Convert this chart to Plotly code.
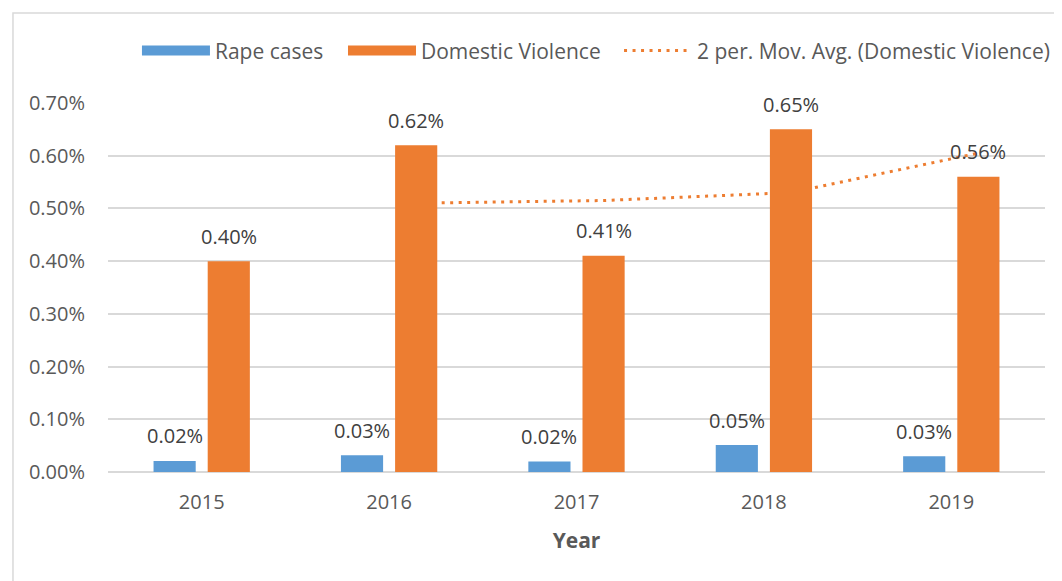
import plotly.graph_objects as go
import pandas as pd

years = ["2015", "2016", "2017", "2018", "2019"]
rape_cases = [0.00021, 0.00032, 0.00020, 0.00051, 0.00030]
domestic_violence = [0.0040, 0.0062, 0.0041, 0.0065, 0.0056]

idx = list(range(len(years)))
bar_w = 0.225
rape_off = -0.257
dv_off = 0.032

# 2-period moving average of Domestic Violence (Excel trendline)
mov_avg = pd.Series(domestic_violence).rolling(2).mean().tolist()

BLUE = "#5B9BD5"
ORANGE = "#ED7D31"
GREY = "#595959"
FONT = "Open Sans"

fig = go.Figure()

# bars on overlay axes so they sit above the trendline
fig.add_trace(go.Bar(
    x=idx, y=rape_cases, name="Rape cases", marker_color=BLUE,
    width=bar_w, offset=rape_off, xaxis="x2", yaxis="y2",
    marker_line_width=0, showlegend=False, legendgroup="rape",
))
fig.add_trace(go.Bar(
    x=idx, y=domestic_violence, name="Domestic Violence", marker_color=ORANGE,
    width=bar_w, offset=dv_off, xaxis="x2", yaxis="y2",
    marker_line_width=0, showlegend=False, legendgroup="dv",
))
# legend swatches (wide, Excel-like)
fig.add_trace(go.Scatter(
    x=[None], y=[None], mode="lines", name="Rape cases", legendgroup="rape",
    line=dict(color=BLUE, width=14), legend="legend",
))
fig.add_trace(go.Scatter(
    x=[None], y=[None], mode="lines", name="Domestic Violence", legendgroup="dv",
    line=dict(color=ORANGE, width=14), legend="legend2",
))
ma_x = [i + dv_off + bar_w / 2 for i, v in zip(idx, mov_avg) if v == v]
ma_y = [v for v in mov_avg if v == v]
fig.add_trace(go.Scatter(
    x=ma_x, y=ma_y, mode="lines", name="2 per. Mov. Avg. (Domestic Violence)",
    line=dict(color=ORANGE, width=3, dash="3px,5.5px"), legend="legend3",
))

annotations = []
for i, v in zip(idx, rape_cases):
    annotations.append(dict(x=i + rape_off + bar_w / 2, y=v, xref="x2", yref="y2",
                            text=f"{v*100:.2f}%", showarrow=False, yanchor="middle",
                            yshift=25, font=dict(family=FONT, size=20, color="#404040")))
for i, v in zip(idx, domestic_violence):
    annotations.append(dict(x=i + dv_off + bar_w / 2, y=v, xref="x2", yref="y2",
                            text=f"{v*100:.2f}%", showarrow=False, yanchor="middle",
                            yshift=25, font=dict(family=FONT, size=20, color="#404040")))

def leg(x, iw):
    return dict(orientation="h", x=x, xanchor="left", y=1.141, yanchor="middle",
                itemwidth=iw, font=dict(family=FONT, size=21, color=GREY),
                bgcolor="rgba(0,0,0,0)", borderwidth=0)

fig.update_layout(
    width=1080, height=573,
    margin=dict(l=100, r=43, t=95, b=109),
    paper_bgcolor="white", plot_bgcolor="white",
    barmode="overlay",
    font=dict(family=FONT, size=20, color=GREY),
    showlegend=True,
    legend=leg(0.0309, 68),
    legend2=leg(0.2508, 68),
    legend3=leg(0.5454, 68),
    xaxis=dict(range=[-0.5, 4.5], tickmode="array", tickvals=idx, ticktext=years,
               showgrid=False, zeroline=False, showline=False, ticks="",
               ticklabelstandoff=16,
               tickfont=dict(family=FONT, size=20, color=GREY),
               title=dict(text="<b>Year</b>", standoff=19,
                          font=dict(family=FONT, size=21, color=GREY))),
    yaxis=dict(range=[0, 0.007], dtick=0.001, tickformat=".2%",
               showgrid=True, gridcolor="#d9d9d9", gridwidth=1.5,
               zeroline=True, zerolinecolor="#d9d9d9", zerolinewidth=1.5,
               showline=False, ticks="", ticklabelstandoff=22,
               tickfont=dict(family=FONT, size=20, color=GREY)),
    xaxis2=dict(range=[-0.5, 4.5], overlaying="x", visible=False),
    yaxis2=dict(range=[0, 0.007], overlaying="y", visible=False),
    annotations=annotations,
    shapes=[dict(type="rect", xref="paper", yref="paper",
                 x0=-0.1014, x1=1.06, y0=-0.4, y1=1.2439,
                 line=dict(color="#d9d9d9", width=1.5), fillcolor="rgba(0,0,0,0)",
                 layer="below")],
)

fig.write_html("out.html")
